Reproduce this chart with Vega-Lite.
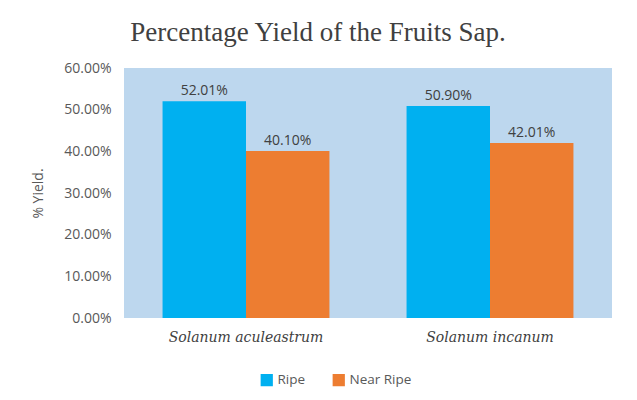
{
  "$schema": "https://vega.github.io/schema/vega-lite/v6.json",
  "width": 488,
  "height": 250,
  "autosize": {"type": "none"},
  "padding": {"left": 124, "top": 68, "right": 25, "bottom": 82},
  "background": "white",
  "title": {
    "text": "Percentage Yield of the Fruits Sap.",
    "font": "Liberation Serif",
    "fontSize": 27,
    "fontWeight": "normal",
    "color": "#404040",
    "anchor": "middle",
    "dx": -50,
    "offset": 14
  },
  "data": {
    "values": [
      {"species": "Solanum aculeastrum", "stage": "Ripe", "yield": 0.5201},
      {"species": "Solanum aculeastrum", "stage": "Near Ripe", "yield": 0.4010},
      {"species": "Solanum incanum", "stage": "Ripe", "yield": 0.5090},
      {"species": "Solanum incanum", "stage": "Near Ripe", "yield": 0.4201}
    ]
  },
  "encoding": {
    "x": {
      "field": "species",
      "type": "nominal",
      "sort": null,
      "scale": {"paddingInner": 0.316, "paddingOuter": 0.158},
      "axis": {
        "title": null,
        "labelAngle": 0,
        "labelFont": "DejaVu Serif",
        "labelFontStyle": "italic",
        "labelFontSize": 14,
        "labelColor": "#404040",
        "labelPadding": 12,
        "ticks": false,
        "domain": false
      }
    },
    "xOffset": {"field": "stage", "type": "nominal", "sort": ["Ripe", "Near Ripe"]},
    "y": {
      "field": "yield",
      "type": "quantitative",
      "scale": {"domain": [0, 0.6]},
      "axis": {
        "title": "% Yield.",
        "titleFont": "Open Sans",
        "titleFontWeight": "normal",
        "titleFontSize": 14,
        "titleColor": "#595959",
        "titlePadding": 18,
        "format": ".2%",
        "values": [0, 0.1, 0.2, 0.3, 0.4, 0.5, 0.6],
        "labelOverlap": false,
        "labelFont": "Open Sans",
        "labelFontSize": 14,
        "labelColor": "#595959",
        "labelPadding": 13,
        "ticks": false,
        "domain": false,
        "grid": false
      }
    }
  },
  "layer": [
    {
      "mark": {"type": "bar"},
      "encoding": {
        "color": {
          "field": "stage",
          "type": "nominal",
          "sort": ["Ripe", "Near Ripe"],
          "scale": {"domain": ["Ripe", "Near Ripe"], "range": ["#00b0f0", "#ed7d31"]},
          "legend": {
            "title": null,
            "orient": "none",
            "direction": "horizontal",
            "legendX": 136,
            "legendY": 305,
            "symbolType": "square",
            "symbolSize": 150,
            "symbolStrokeWidth": 0,
            "labelFont": "Open Sans",
            "labelFontSize": 13.5,
            "labelColor": "#595959",
            "labelOffset": 4,
            "columnPadding": 26
          }
        }
      }
    },
    {
      "mark": {"type": "text", "dy": -10, "font": "Open Sans", "fontSize": 14, "color": "#404040"},
      "encoding": {
        "text": {"field": "yield", "type": "quantitative", "format": ".2%"}
      }
    }
  ],
  "config": {
    "view": {"fill": "#bdd7ee", "stroke": null}
  }
}
